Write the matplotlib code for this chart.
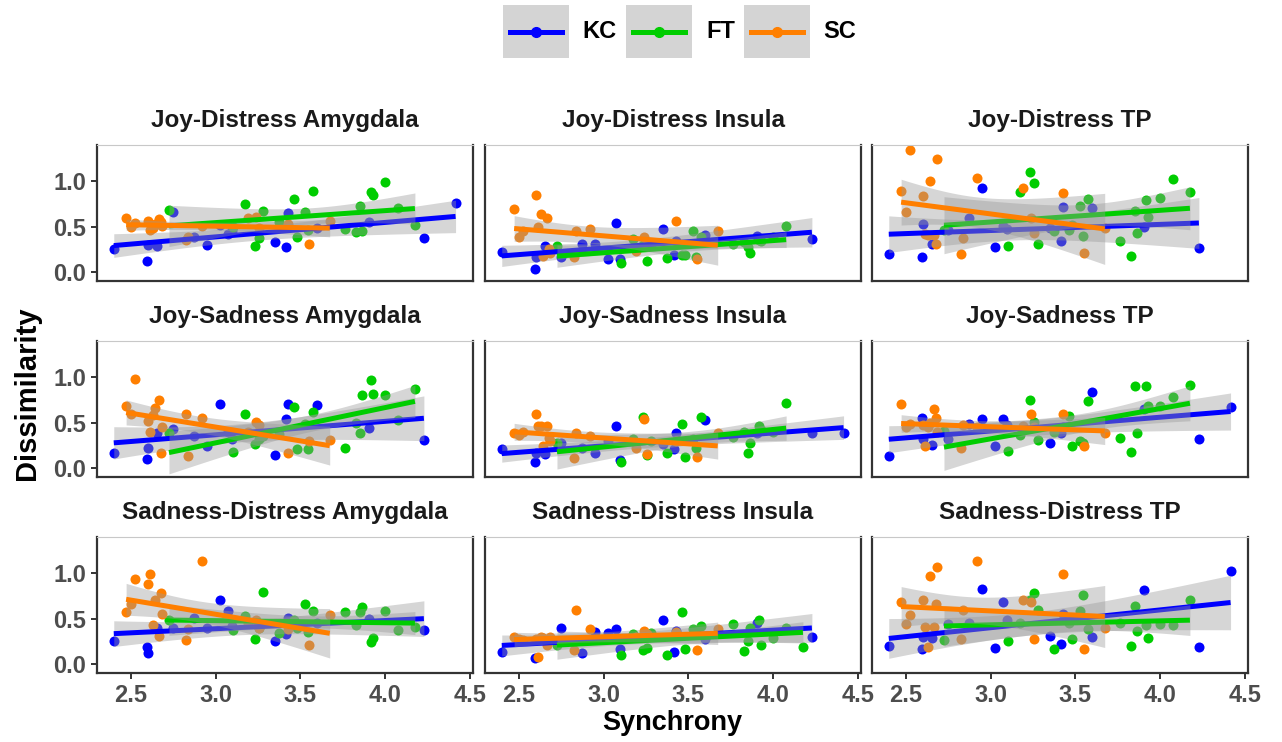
import numpy as np
import matplotlib
matplotlib.use("Agg")
import matplotlib.pyplot as plt
from matplotlib.patches import Rectangle
from matplotlib.lines import Line2D

plt.rcParams['font.family'] = ['Liberation Sans', 'DejaVu Sans']

nan = np.nan

panel_titles = ["Joy-Distress Amygdala", "Joy-Distress Insula", "Joy-Distress TP",
                "Joy-Sadness Amygdala", "Joy-Sadness Insula", "Joy-Sadness TP",
                "Sadness-Distress Amygdala", "Sadness-Distress Insula", "Sadness-Distress TP"]
groups = ["KC", "FT", "SC"]
colors = ["#0000FF", "#00CD00", "#FF7F00"]

# synchrony per subject (same in every panel)
kc_x = [2.399, 2.597, 2.603, 2.652, 2.750, 2.875, 2.952, 3.027, 3.076, 3.100,
        3.352, 3.415, 3.429, 3.599, 3.904, 4.230, 4.417]
ft_x = [2.725, 3.102, 3.175, 3.232, 3.257, 3.281, 3.376, 3.464, 3.480, 3.526,
        3.545, 3.573, 3.766, 3.829, 3.855, 3.865, 3.916, 3.930, 4.003, 4.078, 4.177]
sc_x = [2.472, 2.498, 2.524, 2.603, 2.610, 2.630, 2.644, 2.666, 2.680, 2.685,
        2.823, 2.839, 2.918, 3.190, 3.238, 3.257, 3.425, 3.549, 3.674]

# dissimilarity, one row per panel (same order as panel_titles)
kc_y = [
    [0.25, 0.12, 0.30, 0.29, 0.66, 0.38, 0.30, 0.52, 0.42, 0.45, 0.33, 0.28, 0.65, 0.48, 0.55, 0.37, 0.76],
    [0.22, 0.03, 0.16, 0.29, 0.17, 0.31, 0.31, 0.14, 0.54, 0.14, 0.47, 0.19, 0.34, 0.41, 0.40, 0.36, nan],
    [0.20, 0.16, 0.53, 0.31, 0.46, 0.59, 0.93, 0.27, 0.51, 0.47, 0.49, 0.34, 0.72, 0.70, 0.50, 0.26, nan],
    [0.17, 0.10, 0.22, 0.39, 0.43, 0.35, 0.24, 0.70, 0.40, 0.32, 0.14, 0.54, 0.70, 0.69, 0.44, 0.31, nan],
    [0.21, 0.06, 0.17, 0.15, 0.28, 0.22, 0.16, 0.30, 0.46, 0.09, 0.26, 0.21, 0.38, 0.53, 0.38, 0.38, 0.38],
    [0.13, 0.55, 0.32, 0.25, 0.32, 0.49, 0.54, 0.24, 0.54, 0.47, 0.27, 0.39, 0.45, 0.84, 0.65, 0.32, 0.67],
    [0.25, 0.19, 0.12, 0.40, 0.40, 0.51, 0.40, 0.71, 0.58, 0.42, 0.25, 0.33, 0.51, 0.45, 0.50, 0.37, nan],
    [0.13, 0.06, 0.26, 0.26, 0.40, 0.12, 0.35, 0.34, 0.38, 0.17, 0.49, 0.13, 0.36, 0.28, 0.45, 0.30, nan],
    [0.20, 0.17, 0.30, 0.29, 0.44, 0.45, 0.83, 0.18, 0.68, 0.49, 0.31, 0.22, 0.55, 0.30, 0.82, 0.19, 1.03],
]
ft_y = [
    [0.68, 0.50, 0.75, 0.29, 0.37, 0.67, 0.55, 0.80, 0.38, 0.66, 0.46, 0.89, 0.47, 0.44, 0.73, 0.45, 0.88, 0.85, 0.99, 0.70, 0.52],
    [0.29, 0.10, 0.36, 0.30, 0.12, 0.30, 0.15, 0.19, 0.19, 0.45, 0.17, 0.38, 0.31, 0.33, 0.27, 0.21, 0.35, 0.34, 0.38, 0.51, nan],
    [0.46, 0.29, 0.88, 1.10, 0.98, 0.31, 0.45, 0.46, 0.52, 0.73, 0.40, 0.80, 0.34, 0.18, 0.67, 0.43, 0.79, 0.61, 0.82, 1.03, 0.88],
    [0.38, 0.18, 0.59, 0.26, 0.32, 0.35, 0.37, 0.67, 0.21, 0.49, 0.21, 0.62, 0.22, 0.50, 0.38, 0.80, 0.97, 0.81, 0.80, 0.53, 0.87],
    [0.28, 0.07, 0.32, 0.56, 0.14, 0.30, 0.17, 0.49, 0.12, 0.32, 0.22, 0.56, 0.34, 0.40, 0.17, 0.28, 0.46, 0.42, 0.40, 0.72, nan],
    [0.41, 0.19, 0.36, 0.75, 0.51, 0.31, 0.40, 0.57, 0.24, 0.30, 0.27, 0.74, 0.33, 0.18, 0.90, 0.38, 0.90, 0.68, 0.68, 0.78, 0.91],
    [0.48, 0.37, 0.53, 0.28, 0.40, 0.79, 0.34, 0.48, 0.40, 0.66, 0.35, 0.58, 0.57, 0.43, 0.57, 0.63, 0.24, 0.29, 0.58, 0.37, 0.41],
    [0.21, 0.10, 0.33, 0.15, 0.18, 0.34, 0.10, 0.57, 0.16, 0.38, 0.35, 0.42, 0.44, 0.14, 0.25, 0.40, 0.49, 0.21, 0.29, 0.40, 0.19],
    [0.26, 0.25, 0.45, 0.71, 0.78, 0.59, 0.16, 0.45, 0.27, 0.58, 0.76, 0.38, 0.45, 0.20, 0.64, 0.36, 0.43, 0.29, 0.44, 0.43, 0.71],
]
sc_y = [
    [0.60, 0.50, 0.54, 0.56, 0.46, 0.49, 0.53, 0.58, 0.55, 0.51, 0.35, 0.38, 0.51, 0.59, 0.61, 0.49, 0.53, 0.31, 0.56],
    [0.69, 0.38, 0.45, 0.85, 0.50, 0.64, 0.18, 0.59, 0.25, 0.21, 0.16, 0.45, 0.47, 0.23, 0.38, 0.30, 0.56, 0.14, 0.45],
    [0.89, 0.66, 1.35, 0.84, 0.42, 0.41, 1.00, 0.41, 0.31, 1.25, 0.20, 0.37, 1.04, 0.93, 0.59, 0.43, 0.87, 0.21, 0.49],
    [0.68, 0.59, 0.98, 0.52, 0.40, 0.58, 0.66, 0.75, 0.16, 0.45, 0.60, 0.13, 0.55, 0.40, 0.51, 0.47, 0.16, 0.30, 0.31],
    [0.38, 0.36, 0.40, 0.59, 0.46, 0.46, 0.24, 0.46, 0.33, 0.30, 0.11, 0.39, 0.35, 0.22, 0.54, 0.15, 0.30, 0.12, 0.38],
    [0.71, 0.45, 0.48, 0.47, 0.24, 0.45, 0.50, 0.65, 0.55, 0.40, 0.22, 0.47, 0.45, 0.46, 0.60, 0.45, 0.59, 0.24, 0.39],
    [0.57, 0.66, 0.94, 0.88, 0.99, 0.43, 0.71, 0.31, 0.78, 0.55, 0.26, 0.39, 1.13, 0.45, 0.48, 0.40, 0.38, 0.21, 0.54],
    [0.30, 0.28, 0.26, 0.28, 0.08, 0.30, 0.29, 0.21, 0.27, 0.30, 0.15, 0.59, 0.38, 0.30, 0.36, 0.33, 0.35, 0.15, 0.39],
    [0.68, 0.44, 0.54, 0.71, 0.41, 0.19, 0.97, 0.41, 0.66, 1.07, 0.27, 0.59, 1.14, 0.71, 0.68, 0.28, 0.99, 0.16, 0.40],
]

xs = [kc_x, ft_x, sc_x]
ys = [kc_y, ft_y, sc_y]

# two-sided 95% t quantiles by df
t975 = {10: 2.228, 11: 2.201, 12: 2.179, 13: 2.160, 14: 2.145, 15: 2.131,
        16: 2.120, 17: 2.110, 18: 2.101, 19: 2.093, 20: 2.086, 21: 2.080}


def lm_band(x, y):
    ok = ~np.isnan(y)
    x = x[ok]
    y = y[ok]
    n = len(x)
    b, a = np.polyfit(x, y, 1)
    grid = np.linspace(x.min(), x.max(), 80)
    fit = a + b * grid
    resid = y - (a + b * x)
    s = np.sqrt(np.sum(resid ** 2) / (n - 2))
    sxx = np.sum((x - x.mean()) ** 2)
    se = s * np.sqrt(1.0 / n + (grid - x.mean()) ** 2 / sxx)
    t = t975.get(n - 2, 2.1)
    return grid, fit, fit - t * se, fit + t * se


W, H = 1282, 742
fig = plt.figure(figsize=(W / 100, H / 100), dpi=100)

col_left = [97, 485, 872]
row_top = [145, 341, 537]
pw, ph = 376, 136
tick_col = "#4D4D4D"

for i, title in enumerate(panel_titles):
    r, c = divmod(i, 3)
    ax = fig.add_axes([col_left[c] / W, 1 - (row_top[r] + ph) / H, pw / W, ph / H])
    for g in range(3):
        x = np.array(xs[g])
        y = np.array(ys[g][i], dtype=float)
        ax.scatter(x, y, s=52, color=colors[g], linewidths=0, zorder=2)
    for g in range(3):
        x = np.array(xs[g])
        y = np.array(ys[g][i], dtype=float)
        grid, fit, lo, hi = lm_band(x, y)
        ax.fill_between(grid, lo, hi, color="#999999", alpha=0.4, linewidth=0, zorder=3)
        ax.plot(grid, fit, color=colors[g], lw=3.6, zorder=3, solid_capstyle="butt")

    ax.set_xlim(2.30, 4.52)
    ax.set_ylim(-0.10, 1.40)
    ax.set_xticks([2.5, 3.0, 3.5, 4.0, 4.5])
    ax.set_yticks([0.0, 0.5, 1.0])
    ax.set_title(title, fontsize=17.5, fontweight="bold", color="#1A1A1A", pad=13)
    for side in ["left", "bottom", "right"]:
        ax.spines[side].set_color("#333333")
        ax.spines[side].set_linewidth(1.6)
    ax.spines["top"].set_color("#C8C8C8")
    ax.spines["top"].set_linewidth(0.8)
    ax.tick_params(length=4, width=1.4, color="#333333", labelcolor=tick_col,
                   labelsize=17, pad=4)
    for lab in ax.get_xticklabels() + ax.get_yticklabels():
        lab.set_fontweight("bold")
    if c == 0:
        ax.set_yticklabels(["0.0", "0.5", "1.0"])
    else:
        ax.tick_params(axis="y", left=False, labelleft=False)
    if r == 2:
        ax.set_xticklabels(["2.5", "3.0", "3.5", "4.0", "4.5"])
    else:
        ax.tick_params(axis="x", bottom=False, labelbottom=False)

fig.text(27 / W, 1 - 393 / H, "Dissimilarity", rotation=90, ha="center", va="center",
         fontsize=21, fontweight="bold")
fig.text(672 / W, 1 - 723 / H, "Synchrony", ha="center", va="center",
         fontsize=19.5, fontweight="bold")

# legend drawn by hand at the top
key_left = [503, 626, 744]
label_x = [582, 706, 823]
for g in range(3):
    x0 = key_left[g]
    fig.patches.append(Rectangle((x0 / W, 1 - 58 / H), 66 / W, 53 / H,
                                 transform=fig.transFigure, facecolor="#D4D4D4",
                                 edgecolor="none"))
    fig.lines.append(Line2D([(x0 + 7) / W, (x0 + 59) / W], [1 - 31.5 / H] * 2,
                            transform=fig.transFigure, color=colors[g], lw=3.6))
    fig.lines.append(Line2D([(x0 + 33) / W], [1 - 31.5 / H], transform=fig.transFigure,
                            marker="o", markersize=7, color=colors[g], lw=0))
    fig.text(label_x[g] / W, 1 - 32 / H, groups[g], ha="left", va="center",
             fontsize=17, fontweight="bold")

fig.savefig("out.png", dpi=100)
